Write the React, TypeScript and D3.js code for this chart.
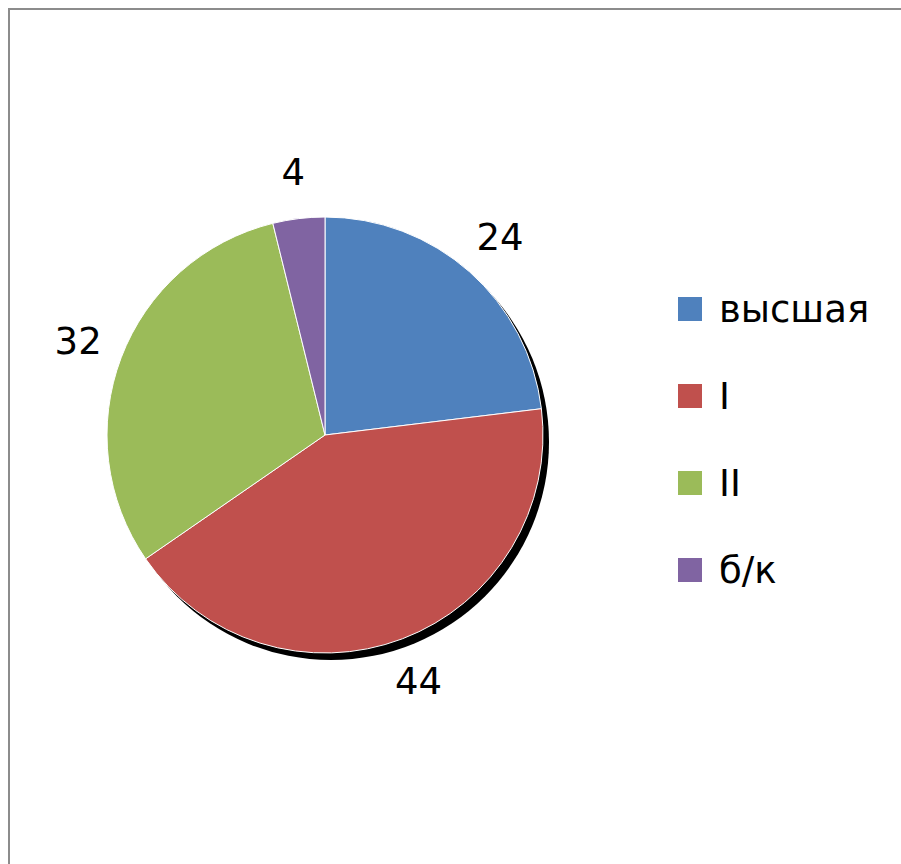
import React from "react";
import { useEffect, useRef } from "react";
import * as d3 from "d3";

const categories = ["высшая", "I", "II", "б/к"];
const values = [24, 44, 32, 4];
const colors = ["#4f81bd", "#c0504d", "#9bbb59", "#8064a2"];

const App = () => {
  const ref = useRef<SVGSVGElement | null>(null);

  useEffect(() => {
    const svg = d3.select(ref.current);
    svg.selectAll("*").remove();

    const width = 901;
    const height = 864;
    const cx = 325;
    const cy = 435;
    const radius = 218;

    svg.attr("width", width).attr("height", height);
    svg.append("rect").attr("width", width).attr("height", height).attr("fill", "#fff");

    // chart frame, only top and left edges visible
    svg
      .append("rect")
      .attr("x", 9)
      .attr("y", 9)
      .attr("width", 1000)
      .attr("height", 1000)
      .attr("fill", "none")
      .attr("stroke", "#8c8c8c")
      .attr("stroke-width", 2);

    const data = categories.map((c, i) => ({ label: c, value: values[i], color: colors[i] }));
    const pie = d3.pie<any>().value((d: any) => d.value).sort(null);
    const arcs = pie(data);
    const arc = d3.arc<any>().innerRadius(0).outerRadius(radius);
    const labelArc = d3.arc<any>().innerRadius(264).outerRadius(264);

    const g = svg.append("g").attr("transform", `translate(${cx},${cy})`);

    // shadow
    g.append("circle")
      .attr("cx", 6)
      .attr("cy", 7)
      .attr("r", radius)
      .attr("fill", "#000");

    g.selectAll("path.slice")
      .data(arcs)
      .enter()
      .append("path")
      .attr("class", "slice")
      .attr("d", arc)
      .attr("fill", (d: any) => d.data.color)
      .attr("stroke", "#fff")
      .attr("stroke-width", 1);

    g.selectAll("text.lbl")
      .data(arcs)
      .enter()
      .append("text")
      .attr("class", "lbl")
      .attr("transform", (d: any) => `translate(${labelArc.centroid(d)})`)
      .attr("text-anchor", "middle")
      .attr("dominant-baseline", "central")
      .attr("font-family", "DejaVu Sans, sans-serif")
      .attr("font-size", 37)
      .attr("fill", "#000")
      .text((d: any) => d.data.value);

    const legend = svg.append("g").attr("transform", "translate(678,297)");
    const rows = legend
      .selectAll("g")
      .data(data)
      .enter()
      .append("g")
      .attr("transform", (_d: any, i: number) => `translate(0,${i * 87})`);
    rows
      .append("rect")
      .attr("width", 24)
      .attr("height", 24)
      .attr("fill", (d: any) => d.color);
    rows
      .append("text")
      .attr("x", 41)
      .attr("y", 12)
      .attr("dominant-baseline", "central")
      .attr("font-family", "DejaVu Sans, sans-serif")
      .attr("font-size", 37)
      .attr("fill", "#000")
      .text((d: any) => d.label);
  }, []);

  return <svg ref={ref} style={{ position: "absolute", left: 0, top: 0 }} />;
};

export default App;
